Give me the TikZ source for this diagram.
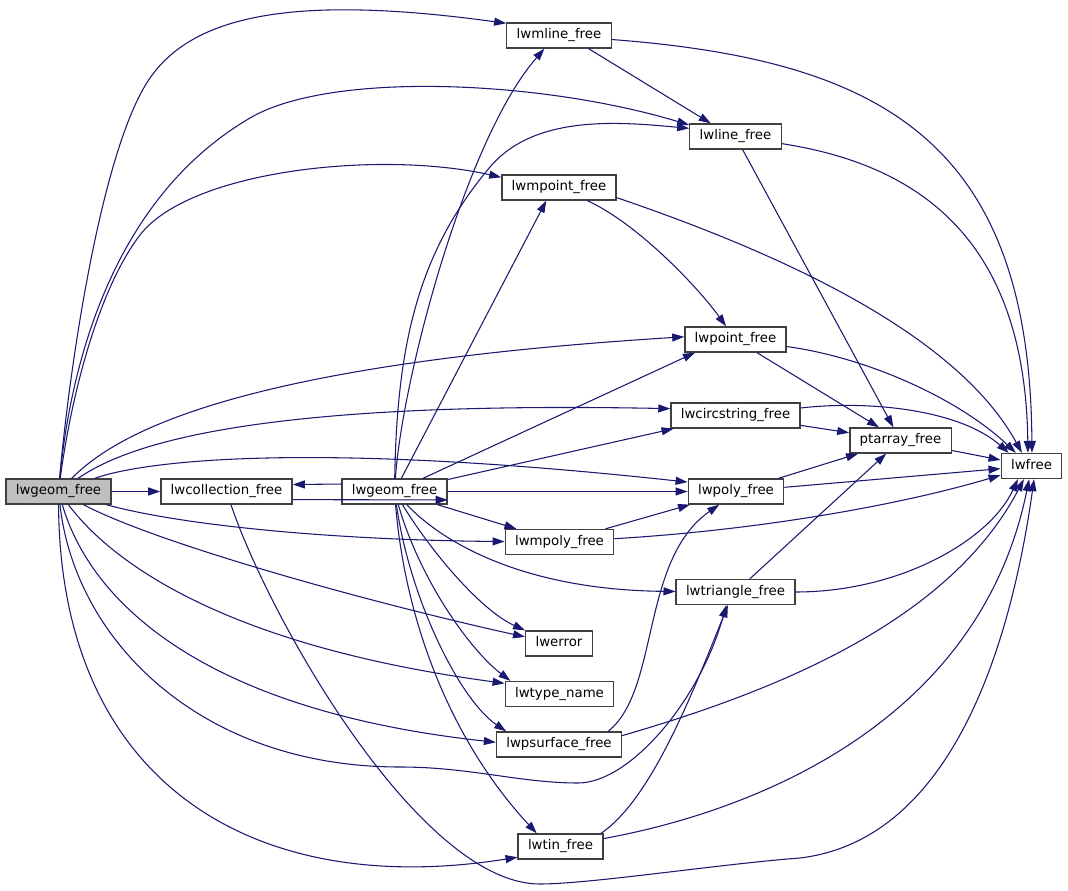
\documentclass[tikz,border=0pt]{standalone}
\usepackage{fontspec}
\setsansfont{DejaVu Sans}
\usetikzlibrary{arrows.meta,positioning}
\definecolor{edgeblue}{HTML}{191970}
\definecolor{boxline}{HTML}{404040}
\definecolor{rootfill}{HTML}{BFBFBF}

\begin{document}
\begin{tikzpicture}[>={Triangle[length=9pt,width=6pt]}, x=0.75pt, y=-0.75pt,
	fn/.style={draw=boxline, fill=white, line width=1pt, inner xsep=7.4pt, inner ysep=0pt,
		minimum height=18.75pt, text height=7.3pt, text depth=2.1pt,
		font=\sffamily\fontsize{10}{12}\selectfont},
	root/.style={fn, fill=rootfill},
	call/.style={draw=edgeblue, line width=0.8pt},
	every edge/.style={call}]
	\useasboundingbox (0,0) rectangle (1068,891);

	\node[root] (gf) at (58.5,491.5) {lwgeom\_free};
	\node[fn] (cf) at (226.5,491.5) {lwcollection\_free};
	\node[fn] (gf2) at (394.5,491.5) {lwgeom\_free};
	\node[fn] (mlf) at (559,35.5) {lwmline\_free};
	\node[fn] (lf) at (735.5,136.5) {lwline\_free};
	\node[fn] (mpf) at (559,187.5) {lwmpoint\_free};
	\node[fn] (pf) at (735.5,339.5) {lwpoint\_free};
	\node[fn] (csf) at (735.5,415.5) {lwcircstring\_free};
	\node[fn] (paf) at (900.5,440.5) {ptarray\_free};
	\node[fn] (lwf) at (1031.5,466) {lwfree};
	\node[fn] (plf) at (736,491.5) {lwpoly\_free};
	\node[fn] (mplf) at (559.5,542) {lwmpoly\_free};
	\node[fn] (trf) at (735.5,592) {lwtriangle\_free};
	\node[fn] (err) at (559,643.5) {lwerror};
	\node[fn] (tname) at (559.5,694) {lwtype\_name};
	\node[fn] (psf) at (559,744.5) {lwpsurface\_free};
	\node[fn] (tinf) at (560.5,846.5) {lwtin\_free};

	\path[->]
	(gf) edge (cf)
	(gf2.172) edge (cf.6)
	(cf.-7) edge (gf2.-9)
	(gf2) edge (mpf.-134)
	(gf2) edge (pf.-162)
	(gf2) edge (csf.-168)
	(gf2) edge (plf)
	(gf2) edge (mplf.163)
	(mlf.-24) edge (lf.152)
	(lf) edge (paf)
	(pf) edge (paf)
	(csf) edge (paf)
	(paf) edge (lwf)
	(plf) edge (paf)
	(plf) edge (lwf)
	(mplf) edge (plf)
	(trf) edge (paf)
	;

	% calls of the outer lwgeom_free
	\draw[call,->] (gf) .. controls (68,380) and (100,150) .. (150,78) .. controls (195,13) and (300,-5) .. (mlf.167);
	\draw[call,->] (gf) .. controls (70,370) and (110,200) .. (250,118) .. controls (330,71) and (540,80) .. (lf.166);
	\draw[call,->] (gf) .. controls (72,390) and (100,287) .. (140,235) .. controls (190,170) and (380,150) .. (mpf.170);
	\draw[call,->] (gf) .. controls (115,435) and (230,365) .. (pf.177);
	\draw[call,->] (gf) .. controls (120,450) and (230,400) .. (csf.174);
	\draw[call,->] (gf) .. controls (140,462) and (300,440) .. (plf.169);
	\draw[call,->] (gf) .. controls (180,525) and (330,540) .. (mplf);
	\draw[call,->] (gf) .. controls (160,545) and (380,605) .. (err.169);
	\draw[call,->] (gf) .. controls (110,560) and (220,645) .. (tname.169);
	\draw[call,->] (gf) .. controls (90,600) and (200,710) .. (psf.178);
	\draw[call,->] (gf) .. controls (75,640) and (200,767) .. (400,767) .. controls (470,767) and (520,783) .. (578,783) .. controls (630,783) and (700,700) .. (trf.-125);
	\draw[call,->] (gf) .. controls (60,780) and (250,900) .. (tinf.-166);
	\draw[call,->] (cf) .. controls (270,620) and (420,884) .. (540,884) .. controls (590,884) and (720,864) .. (800,858) .. controls (950,840) and (1010,650) .. (lwf.-79);

	% calls of the inner lwgeom_free
	\draw[call,->] (gf2) .. controls (402,380) and (465,140) .. (mlf.-138);
	\draw[call,->] (gf2) .. controls (397,340) and (420,250) .. (490,167) .. controls (535,114) and (620,122) .. (lf.170);
	\draw[call,->] (gf2) .. controls (440,540) and (520,590) .. (trf);
	\draw[call,->] (gf2) .. controls (430,550) and (480,610) .. (err.north west);
	\draw[call,->] (gf2) .. controls (420,580) and (470,650) .. (tname.165);
	\draw[call,->] (gf2) .. controls (410,600) and (460,700) .. (psf.166);
	\draw[call,->] (gf2) .. controls (405,620) and (450,740) .. (tinf.151);

	% into lwfree and the rest
	\draw[call,->] (mlf) .. controls (880,60) and (1030,140) .. (lwf.88);
	\draw[call,->] (lf) .. controls (920,165) and (1025,240) .. (lwf.105);
	\draw[call,->] (mpf) .. controls (640,225) and (700,290) .. (pf);
	\draw[call,->] (mpf.-10) .. controls (800,260) and (960,340) .. (lwf.126);
	\draw[call,->] (pf) .. controls (870,358) and (960,400) .. (lwf.140);
	\draw[call,->] (csf) .. controls (870,400) and (960,410) .. (lwf.150);
	\draw[call,->] (mplf) .. controls (760,530) and (900,505) .. (lwf);
	\draw[call,->] (trf) .. controls (900,592) and (990,540) .. (lwf.-136);
	\draw[call,->] (psf.15) .. controls (660,690) and (640,560) .. (plf.-142);
	\draw[call,->] (psf.8) .. controls (780,690) and (950,620) .. (lwf.-120);
	\draw[call,->] (tinf.18) .. controls (650,800) and (690,700) .. (trf.-120);
	\draw[call,->] (tinf) .. controls (760,810) and (980,720) .. (lwf.-100);
\end{tikzpicture}
\end{document}
